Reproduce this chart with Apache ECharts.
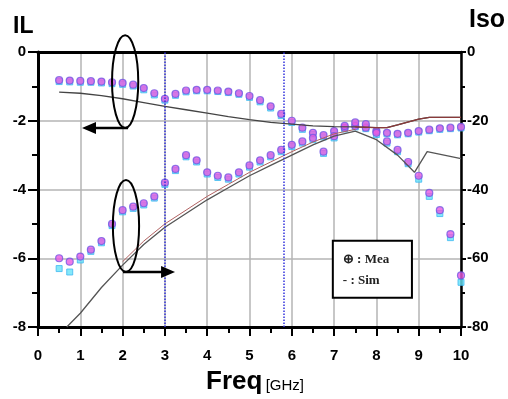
<!DOCTYPE html>
<html>
<head>
<meta charset="utf-8">
<script src="https://cdn.jsdelivr.net/npm/echarts@6/dist/echarts.min.js"></script>
<style>
    html, body { margin: 0; padding: 0; background: #fff; }
    #chart { width: 508px; height: 399px; }
</style>
</head>
<body>
<div id="chart"></div>
<script>
    // measured frequency points (GHz)
    var freq = [0.5, 0.75, 1, 1.25, 1.5, 1.75, 2, 2.25, 2.5, 2.75, 3, 3.25, 3.5, 3.75, 4, 4.25, 4.5, 4.75, 5,
        5.25, 5.5, 5.75, 6, 6.25, 6.5, 6.75, 7, 7.25, 7.5, 7.75, 8, 8.25, 8.5, 8.75, 9, 9.25, 9.5, 9.75, 10];
    // insertion loss, measured (dB, left axis)
    var ilMea1 = [-0.82, -0.83, -0.84, -0.85, -0.86, -0.88, -0.9, -0.95, -1.05, -1.2, -1.36, -1.22, -1.12, -1.1, -1.1,
        -1.12, -1.15, -1.2, -1.28, -1.4, -1.58, -1.8, -2.0, -2.2, -2.35, -2.42, -2.3, -2.2, -2.15, -2.2, -2.3,
        -2.35, -2.38, -2.35, -2.3, -2.26, -2.22, -2.2, -2.18];
    var ilMea2 = [-0.86, -0.87, -0.88, -0.88, -0.9, -0.92, -0.94, -0.99, -1.1, -1.25, -1.4, -1.26, -1.16, -1.13, -1.13,
        -1.15, -1.18, -1.23, -1.32, -1.45, -1.63, -1.85, -2.05, -2.25, -2.4, -2.47, -2.35, -2.24, -2.18, -2.23, -2.33,
        -2.38, -2.41, -2.38, -2.33, -2.29, -2.25, -2.23, -2.21];
    // isolation, measured (dB, right axis)
    var isoMea1 = [-60, -61, -59.5, -57.5, -55, -50, -46, -45, -44, -42, -38, -34, -30, -31.5, -35, -36, -36.5, -35, -33,
        -31.5, -30, -28.5, -27, -26, -25, -29, -24.5, -21.5, -20.5, -21, -23.5, -26, -28.5, -32, -36, -41, -46, -53, -65];
    var isoMea2 = [-63, -64, -60.5, -58, -55.5, -50.5, -46.5, -45.5, -44.5, -42.5, -38.5, -34.5, -30.5, -32, -35.5, -36.5, -37, -35.5, -33.5,
        -32, -30.5, -29, -27.5, -26.5, -25.5, -29.5, -25, -22, -21, -21.5, -24, -26.5, -29, -32.5, -37, -42, -47, -54, -67];
    // simulation
    var ilSimF = [0.5, 1, 1.5, 2, 2.5, 3, 3.5, 4, 4.5, 5, 5.5, 6, 6.5, 7, 7.5, 8, 8.25, 8.5, 9, 9.25, 10];
    var ilSim = [-1.17, -1.2, -1.27, -1.36, -1.47, -1.58, -1.68, -1.78, -1.88, -1.97, -2.05, -2.1, -2.15, -2.17, -2.18,
        -2.2, -2.2, -2.12, -1.95, -1.9, -1.9];
    var isoSimF = [0.68, 1, 1.5, 2, 2.5, 3, 3.5, 4, 4.5, 5, 5.5, 6, 6.5, 7, 7.5, 8, 8.5, 8.9, 9.2, 10];
    var isoSim = [-80, -76, -68.5, -62, -56, -51, -47, -43, -39.5, -36, -33, -30, -27, -24.5, -23, -25.5, -30, -35, -29, -31];
    var isoSim2F = [2, 2.5, 3, 3.5, 4, 4.5, 5, 5.5, 6, 6.5, 7, 7.5];
    var isoSim2 = [-61, -55, -50, -46, -42, -38.5, -35, -32, -29, -26.2, -23.8, -22.5];
    // dotted marker frequencies
    var markerFreq = [3, 5.8];

    function pairs(xs, ys) {
        return xs.map(function (x, i) { return [x, ys[i]]; });
    }

    var chart = echarts.init(document.getElementById('chart'));
    var font = 'Liberation Sans, Arial, sans-serif';
    var black = '#000';
    var meaPink = { color: '#e85ae0', borderColor: '#7458e4', borderWidth: 1.2 };
    var meaCyan = { color: '#66e2f8', borderColor: '#3fb8f0', borderWidth: 1 };

    var option = {
        animation: false,
        grid: { left: 38, right: 47, top: 52, bottom: 72 },
        xAxis: [{
            type: 'value', min: 0, max: 10, interval: 1,
            axisLine: { onZero: false, lineStyle: { color: black, width: 3 } },
            axisTick: { length: 9, lineStyle: { color: black, width: 2 } },
            minorTick: { show: true, splitNumber: 2, length: 6, lineStyle: { color: black, width: 2 } },
            axisLabel: { color: black, fontSize: 15, fontWeight: 'bold', fontFamily: font, margin: 21 },
            splitLine: { show: true, lineStyle: { color: '#b4b4b4', width: 1.5 } }
        }, {
            type: 'value', min: 0, max: 10, position: 'top',
            axisLine: { show: true, onZero: false, lineStyle: { color: black, width: 3 } },
            axisTick: { show: false }, axisLabel: { show: false }, splitLine: { show: false }
        }],
        yAxis: [{
            type: 'value', min: -8, max: 0, interval: 2,
            axisLine: { show: true, onZero: false, lineStyle: { color: black, width: 3 } },
            axisTick: { show: true, length: 10, lineStyle: { color: black, width: 2 } },
            minorTick: { show: true, splitNumber: 2, length: 6, lineStyle: { color: black, width: 2 } },
            axisLabel: { color: black, fontSize: 15, fontWeight: 'bold', fontFamily: font, margin: 12 },
            splitLine: { show: true, lineStyle: { color: '#b4b4b4', width: 1.5 } }
        }, {
            type: 'value', min: -80, max: 0, interval: 20, position: 'right',
            axisLine: { show: true, onZero: false, lineStyle: { color: black, width: 2.5 } },
            axisTick: { show: true, length: 5, lineStyle: { color: black, width: 2 } },
            minorTick: { show: true, splitNumber: 2, length: 4, lineStyle: { color: black, width: 2 } },
            axisLabel: { color: black, fontSize: 15, fontWeight: 'bold', fontFamily: font, margin: 6 },
            splitLine: { show: false }
        }],
        series: [
            {
                type: 'line', data: pairs(ilSimF, ilSim), showSymbol: false, symbol: 'none',
                lineStyle: { color: '#444', width: 1.3 },
                markLine: {
                    silent: true, symbol: 'none', label: { show: false },
                    lineStyle: { type: 'dotted', color: '#3333dd', width: 1.5 },
                    data: markerFreq.map(function (f) { return { xAxis: f }; })
                }
            },
            {
                type: 'line', data: pairs(ilSimF, ilSim).filter(function (p) { return p[0] >= 7.5; }), symbol: 'none',
                lineStyle: { color: '#8a3a3a', width: 1.3 }
            },
            {
                type: 'line', yAxisIndex: 1, data: pairs(isoSimF, isoSim), symbol: 'none',
                lineStyle: { color: '#555', width: 1.3 }
            },
            {
                type: 'line', yAxisIndex: 1, data: pairs(isoSim2F, isoSim2), symbol: 'none',
                lineStyle: { color: '#b06060', width: 1 }
            },
            { type: 'scatter', data: pairs(freq, ilMea2), symbol: 'rect', symbolSize: 6, itemStyle: meaCyan },
            { type: 'scatter', yAxisIndex: 1, data: pairs(freq, isoMea2), symbol: 'rect', symbolSize: 6, itemStyle: meaCyan },
            { type: 'scatter', data: pairs(freq, ilMea1), symbol: 'circle', symbolSize: 7, itemStyle: meaPink },
            { type: 'scatter', yAxisIndex: 1, data: pairs(freq, isoMea1), symbol: 'circle', symbolSize: 7, itemStyle: meaPink }
        ]
    };
    chart.setOption(option);

    // annotations placed in data coordinates (GHz, IL dB)
    function px(f, v) { return chart.convertToPixel({ xAxisIndex: 0, yAxisIndex: 0 }, [f, v]); }
    function ellipse(f, v, df, dv) {
        var c = px(f, v), e = px(f + df, v - dv);
        return { type: 'ellipse', z: 100, shape: { cx: c[0], cy: c[1], rx: e[0] - c[0], ry: e[1] - c[1] },
            style: { fill: 'none', stroke: black, lineWidth: 2 } };
    }
    function arrow(f1, f2, v) {
        var a = px(f1, v), b = px(f2, v), d = b[0] > a[0] ? -1 : 1;
        return [
            { type: 'line', z: 100, shape: { x1: a[0], y1: a[1], x2: b[0] + d * 6, y2: b[1] }, style: { stroke: black, lineWidth: 2.5 } },
            { type: 'polygon', z: 100, shape: { points: [[b[0], b[1]], [b[0] + d * 14, b[1] - 6], [b[0] + d * 14, b[1] + 6]] },
                style: { fill: black } }
        ];
    }
    var box1 = px(6.97, -5.49), box2 = px(8.84, -7.15);
    var graphics = [
        ellipse(2.06, -0.86, 0.31, 1.35),
        ellipse(2.08, -5.06, 0.31, 1.34)
    ].concat(arrow(2.13, 1.04, -2.21)).concat(arrow(2.01, 3.24, -6.4)).concat([
        { type: 'rect', z: 100, shape: { x: box1[0], y: box1[1], width: box2[0] - box1[0], height: box2[1] - box1[1] },
            style: { fill: '#fff', stroke: black, lineWidth: 2 } },
        { type: 'text', z: 101, left: box1[0] + 10, top: box1[1] + 12,
            style: { text: '\u2295 : Mea', font: 'bold 13px "Liberation Serif", serif', fill: '#222' } },
        { type: 'text', z: 101, left: box1[0] + 10, top: box1[1] + 33,
            style: { text: '- : Sim', font: 'bold 13px "Liberation Serif", serif', fill: '#222' } },
        { type: 'text', left: 13, top: 15, style: { text: 'IL', font: 'bold 23px ' + font, fill: black } },
        { type: 'text', left: 469, top: 8, style: { text: 'Iso', font: 'bold 25px ' + font, fill: black } },
        { type: 'text', left: 206, top: 369, style: {
            text: '{a|Freq} {b|[GHz]}',
            rich: {
                a: { font: 'bold 26px ' + font, fill: black },
                b: { font: '15px ' + font, fill: black, padding: [7, 0, 0, 0] }
            }
        } }
    ]);
    chart.setOption({ graphic: graphics });
</script>
</body>
</html>
